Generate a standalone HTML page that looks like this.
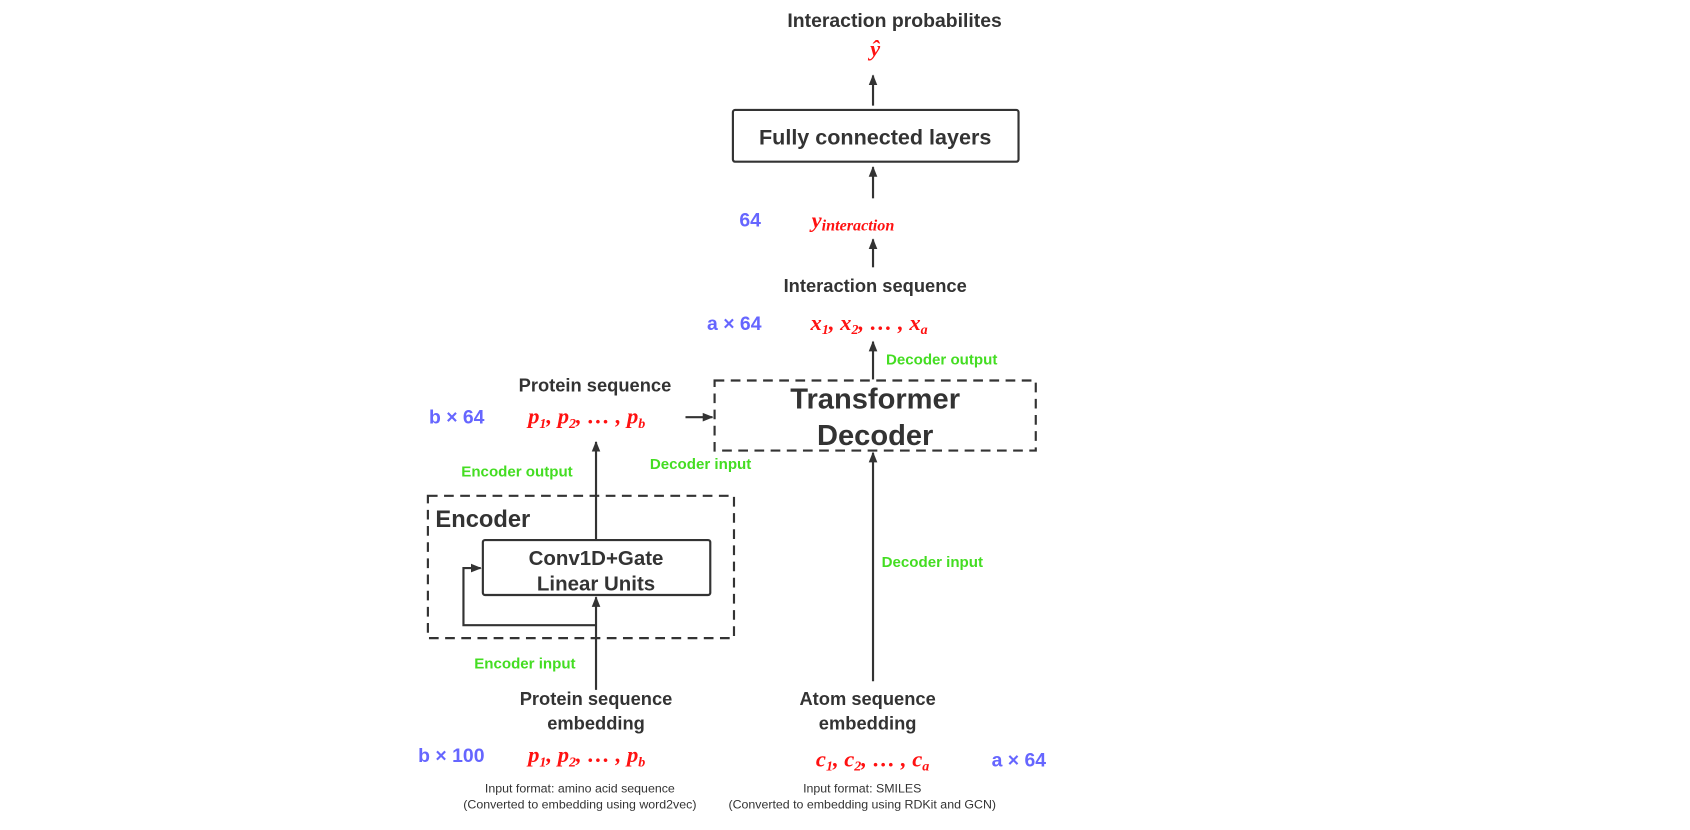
<!DOCTYPE html>
<html><head><meta charset="utf-8"><style>
html,body{margin:0;padding:0;background:#fff;}
svg{display:block}
.t{font-family:"Liberation Sans",sans-serif;font-weight:bold;fill:#333;}
.g{font-family:"Liberation Sans",sans-serif;font-weight:bold;fill:#44dd22;font-size:14px;}
.b{font-family:"Liberation Sans",sans-serif;font-weight:bold;fill:#6666ff;font-size:18px;}
.m{font-family:"Liberation Serif",serif;font-weight:bold;font-style:italic;fill:#ff1111;font-size:21px;}
.s{font-family:"Liberation Sans",sans-serif;fill:#333;font-size:11.5px;}
</style></head><body>
<svg width="1690" height="830" viewBox="0 0 1568 770" preserveAspectRatio="none" xmlns="http://www.w3.org/2000/svg">
<defs><marker id="a" markerWidth="10" markerHeight="10" refX="9" refY="5" orient="auto" markerUnits="userSpaceOnUse"><path d="M0,1 L10,5 L0,9 Z" fill="#333"/></marker></defs>
<g stroke="#333" stroke-width="2" fill="none">
<line x1="810" y1="98" x2="810" y2="70" marker-end="url(#a)"/>
<rect x="680" y="102" width="265" height="48" rx="2"/>
<line x1="810" y1="184" x2="810" y2="155" marker-end="url(#a)"/>
<line x1="810" y1="248" x2="810" y2="222" marker-end="url(#a)"/>
<line x1="810" y1="352" x2="810" y2="317" marker-end="url(#a)"/>
<rect x="663" y="353" width="298" height="65" stroke-dasharray="9,6"/>
<line x1="636" y1="387" x2="661" y2="387" marker-end="url(#a)"/>
<line x1="553" y1="501" x2="553" y2="410" marker-end="url(#a)"/>
<rect x="397" y="460" width="284" height="132" stroke-dasharray="9,6"/>
<rect x="448" y="501" width="211" height="51" rx="2"/>
<polyline points="553,580 430,580 430,527 446,527" marker-end="url(#a)"/>
<line x1="553" y1="640" x2="553" y2="554" marker-end="url(#a)"/>
<line x1="810" y1="632" x2="810" y2="420" marker-end="url(#a)"/>
</g>
<text class="t" x="830" y="25" font-size="18" text-anchor="middle">Interaction probabilites</text>
<text class="m" x="812" y="52" text-anchor="middle">ŷ</text>
<text class="t" x="812" y="134" font-size="20" text-anchor="middle">Fully connected layers</text>
<text class="b" x="686" y="210">64</text>
<text class="m" x="753" y="211">y<tspan font-size="15" dy="3">interaction</tspan></text>
<text class="t" x="812" y="271" font-size="17" text-anchor="middle">Interaction sequence</text>
<text class="b" x="656" y="306">a × 64</text>
<text class="m" x="752" y="306">x<tspan font-size="13" dy="4">1</tspan><tspan dy="-4">, x</tspan><tspan font-size="13" dy="4">2</tspan><tspan dy="-4">, … , x</tspan><tspan font-size="13" dy="4">a</tspan></text>
<text class="g" x="822" y="338">Decoder output</text>
<text class="t" x="812" y="379" font-size="27" text-anchor="middle">Transformer</text>
<text class="t" x="812" y="413" font-size="27" text-anchor="middle">Decoder</text>
<text class="t" x="552" y="363" font-size="17" text-anchor="middle">Protein sequence</text>
<text class="b" x="398" y="393">b × 64</text>
<text class="m" x="490" y="393">p<tspan font-size="13" dy="4">1</tspan><tspan dy="-4">, p</tspan><tspan font-size="13" dy="4">2</tspan><tspan dy="-4">, … , p</tspan><tspan font-size="13" dy="4">b</tspan></text>
<text class="g" x="603" y="435">Decoder input</text>
<text class="g" x="428" y="442">Encoder output</text>
<text class="t" x="404" y="489" font-size="22">Encoder</text>
<text class="t" x="553" y="524" font-size="19" text-anchor="middle">Conv1D+Gate</text>
<text class="t" x="553" y="548" font-size="19" text-anchor="middle">Linear Units</text>
<text class="g" x="818" y="526">Decoder input</text>
<text class="g" x="440" y="620">Encoder input</text>
<text class="t" x="553" y="654" font-size="17" text-anchor="middle">Protein sequence</text>
<text class="t" x="553" y="677" font-size="17" text-anchor="middle">embedding</text>
<text class="t" x="805" y="654" font-size="17" text-anchor="middle">Atom sequence</text>
<text class="t" x="805" y="677" font-size="17" text-anchor="middle">embedding</text>
<text class="b" x="388" y="707">b × 100</text>
<text class="m" x="490" y="707">p<tspan font-size="13" dy="4">1</tspan><tspan dy="-4">, p</tspan><tspan font-size="13" dy="4">2</tspan><tspan dy="-4">, … , p</tspan><tspan font-size="13" dy="4">b</tspan></text>
<text class="m" x="757" y="711">c<tspan font-size="13" dy="4">1</tspan><tspan dy="-4">, c</tspan><tspan font-size="13" dy="4">2</tspan><tspan dy="-4">, … , c</tspan><tspan font-size="13" dy="4">a</tspan></text>
<text class="b" x="920" y="711">a × 64</text>
<text class="s" x="538" y="735" text-anchor="middle">Input format: amino acid sequence</text>
<text class="s" x="538" y="750" text-anchor="middle">(Converted to embedding using word2vec)</text>
<text class="s" x="800" y="735" text-anchor="middle">Input format: SMILES</text>
<text class="s" x="800" y="750" text-anchor="middle">(Converted to embedding using RDKit and GCN)</text>
</svg>
</body></html>
